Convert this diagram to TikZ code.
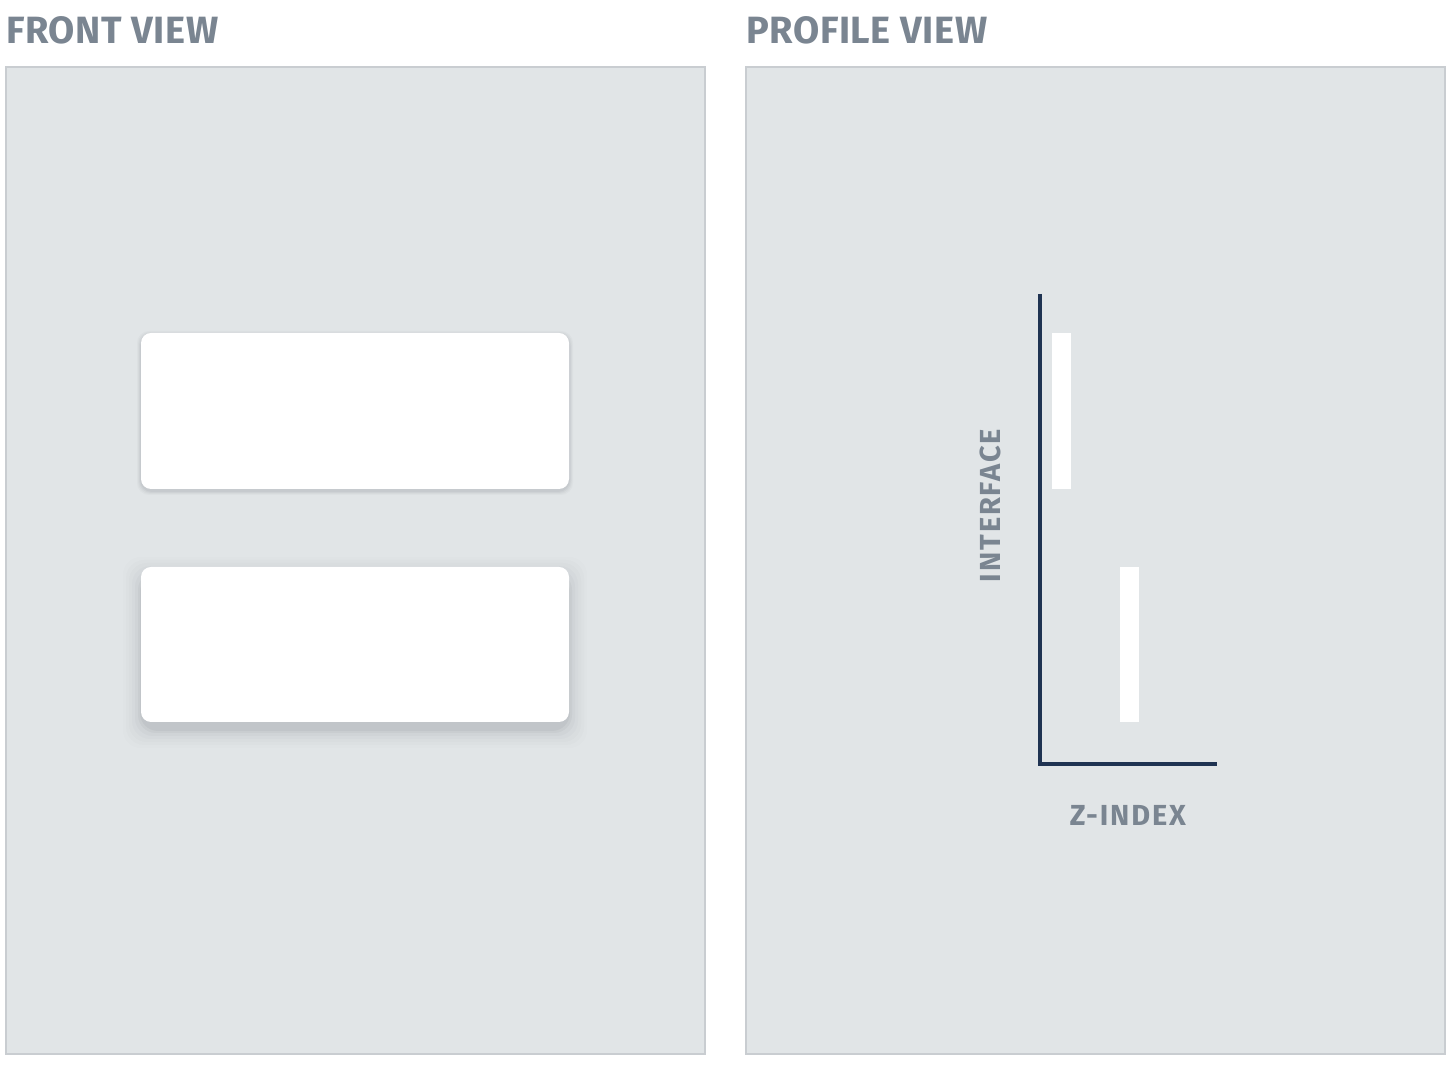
\documentclass[tikz,border=0pt]{standalone}
\usepackage{fontspec}
\setmainfont{Fira Sans}
\setsansfont{Fira Sans}
\definecolor{panelfill}{HTML}{E1E5E7}
\definecolor{panelline}{HTML}{C9CDD1}
\definecolor{titlegray}{HTML}{7A8591}
\definecolor{axisnavy}{HTML}{1F3352}
\definecolor{shadowc}{HTML}{4A5060}
\tikzset{
  panel/.style={draw=panelline, line width=1pt, fill=panelfill},
  card/.style={fill=white, rounded corners=5pt, draw=none},
  bar/.style={fill=white, draw=none},
  title/.style={text=titlegray, anchor=base west, inner sep=0pt, font=\bfseries\fontsize{19}{22}\selectfont\addfontfeature{LetterSpace=1.5}},
  axlabel/.style={text=titlegray, inner sep=0pt, font=\bfseries\fontsize{14.5}{17}\selectfont\addfontfeature{LetterSpace=6.5}},
  axisline/.style={draw=axisnavy, line width=1.8pt},
}
\begin{document}
\begin{tikzpicture}[x=0.5pt,y=-0.5pt]
\useasboundingbox (0,0) rectangle (1448,1068);
\fill[white] (0,0) rectangle (1448,1068);
% titles
\node[title] (t1) at (6,44) {FRONT VIEW};
\node[title] (t2) at (746,44) {PROFILE VIEW};
% panels
\draw[panel] (5.5,67.5) rectangle (704.5,1054.5);
\draw[panel] (745.5,67.5) rectangle (1444.5,1054.5);
% shadows top card
\foreach \s/\o in {4/0.03,3/0.04,2/0.05,1/0.06}{
  \fill[shadowc, opacity=\o, rounded corners=6pt] (141-\s,333-\s+2) rectangle (569+\s,489+\s+2);
}
% shadows bottom card
\foreach \s/\o in {18/0.012,15/0.015,12/0.02,9/0.025,6/0.035,3/0.05,1/0.06}{
  \fill[shadowc, opacity=\o, rounded corners=9pt] (141-\s,567-\s+8) rectangle (569+\s,722+\s+8);
}
% cards
\node[card, minimum width=214pt, minimum height=78pt, inner sep=0pt] (c1) at (355,411) {};
\node[card, minimum width=214pt, minimum height=77.5pt, inner sep=0pt] (c2) at (355,644.5) {};
% profile bars
\node[bar, minimum width=9.5pt, minimum height=78pt, inner sep=0pt] (b1) at (1061.5,411) {};
\node[bar, minimum width=9.5pt, minimum height=77.5pt, inner sep=0pt] (b2) at (1129.5,644.5) {};
% axes
\coordinate (ytop) at (1040,294);
\coordinate (origin) at (1040,764);
\coordinate (xend) at (1217,764);
\draw[axisline] (ytop) -- (origin) -- (xend);
% labels
\node[axlabel, rotate=90] (ly) at (990,505.5) {INTERFACE};
\node[axlabel] (lx) at (1128,815) {Z-INDEX};
\end{tikzpicture}
\end{document}
